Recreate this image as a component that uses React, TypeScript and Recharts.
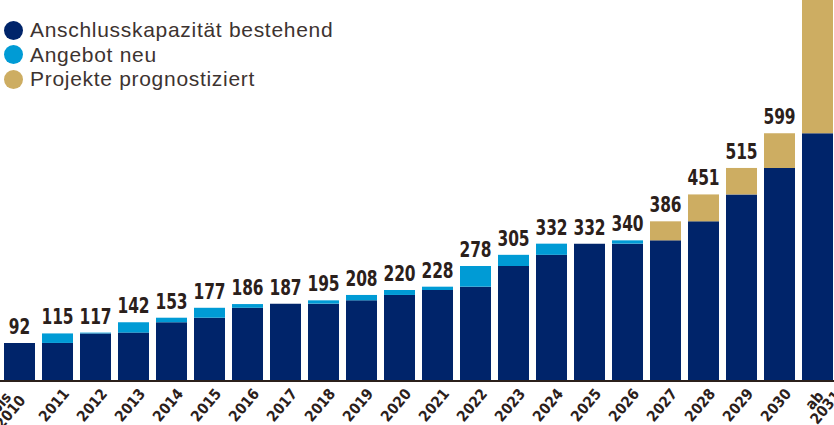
import { Bar, BarChart, LabelList, XAxis, YAxis } from "recharts";

const categories = [
  "bis 2010", "2011", "2012", "2013", "2014", "2015", "2016", "2017", "2018", "2019", "2020",
  "2021", "2022", "2023", "2024", "2025", "2026", "2027", "2028", "2029", "2030", "ab 2031",
];
const bestehend = [92, 92, 115, 117, 142, 153, 177, 187, 187, 195, 208, 220, 228, 278, 305, 332, 332, 340, 386, 451, 515, 599];
const angebotNeu = [0, 23, 2, 25, 11, 24, 9, 0, 8, 13, 12, 8, 50, 27, 27, 0, 8, 0, 0, 0, 0, 0];
const prognostiziert = [0, 0, 0, 0, 0, 0, 0, 0, 0, 0, 0, 0, 0, 0, 0, 0, 0, 46, 65, 64, 84, 400];
const totals = [92, 115, 117, 142, 153, 177, 186, 187, 195, 208, 220, 228, 278, 305, 332, 332, 340, 386, 451, 515, 599, null];

const NAVY = "#00246a";
const BLUE = "#009bd5";
const GOLD = "#cdad62";
const INK = "#2b201b";

const condensed = "'Liberation Sans Narrow', 'Arial Narrow', 'DejaVu Sans Condensed', sans-serif";

const data = categories.map((year, i) => ({
  year,
  bestehend: bestehend[i],
  neu: angebotNeu[i],
  prognose: prognostiziert[i],
  total: totals[i],
}));

const legendItems = [
  { label: "Anschlusskapazität bestehend", color: NAVY },
  { label: "Angebot neu", color: BLUE },
  { label: "Projekte prognostiziert", color: GOLD },
];

// two-line labels: first and last category sit a bit differently
function YearTick({ x, y, payload, index }: any) {
  const parts = String(payload.value).split(" ");
  const common = { fill: INK, fontFamily: condensed, fontWeight: "bold", fontSize: 15 };
  let body;
  if (parts.length === 1) {
    body = (
      <text {...common} textAnchor="end" x={0} y={0}>
        {parts[0]}
      </text>
    );
  } else if (index === 0) {
    body = (
      <>
        <text {...common} textAnchor="start" x={-38} y={-13}>{parts[0]}</text>
        <text {...common} textAnchor="end" x={-9} y={0}>{parts[1]}</text>
      </>
    );
  } else {
    body = (
      <>
        <text {...common} textAnchor="end" x={-5.5} y={-2.7}>{parts[0]}</text>
        <text {...common} textAnchor="end" x={5.5} y={10.3}>{parts[1]}</text>
      </>
    );
  }
  return (
    <g transform={`translate(${x + 13},${y + 5}) rotate(-50)`}>{body}</g>
  );
}

function TotalLabel(props: any) {
  const vb = props.viewBox ?? props;
  const i = props.index;
  const t = totals[i];
  if (t == null) return null;
  // label sits on navy segment; lift it by the stacked segments above, same px/unit
  const pxPerUnit = vb.height / bestehend[i];
  const top = vb.y - (t - bestehend[i]) * pxPerUnit;
  const cx = vb.x + vb.width / 2;
  return (
    <text
      transform={`translate(${cx},${top - 9}) scale(0.78,1)`}
      textAnchor="middle"
      fill={INK}
      fontFamily={condensed}
      fontWeight="bold"
      fontSize={22}
    >
      {t}
    </text>
  );
}

export default function App() {
  return (
    <div
      style={{
        position: "fixed",
        left: 0,
        top: 0,
        width: 834,
        height: 425,
        overflow: "hidden",
        background: "#fff",
      }}
    >
      <BarChart
        width={840}
        height={425}
        data={data}
        margin={{ top: 0, right: 4, bottom: 0, left: 0 }}
        barSize={31}
      >
        <XAxis
          dataKey="year"
          height={44}
          interval={0}
          tickLine={false}
          axisLine={{ stroke: INK, strokeWidth: 2 }}
          tick={<YearTick />}
        />
        <YAxis hide domain={[0, 921]} allowDataOverflow />
        <Bar dataKey="bestehend" stackId="a" fill={NAVY} isAnimationActive={false}>
          <LabelList dataKey="total" content={<TotalLabel />} />
        </Bar>
        <Bar dataKey="neu" stackId="a" fill={BLUE} isAnimationActive={false} />
        <Bar dataKey="prognose" stackId="a" fill={GOLD} isAnimationActive={false} />
      </BarChart>
      <div style={{ position: "absolute", left: 4, top: 18, fontFamily: "'Liberation Sans', Arial, sans-serif" }}>
        {legendItems.map((item) => (
          <div key={item.label} style={{ display: "flex", alignItems: "center", height: 24.5 }}>
            <span
              style={{
                width: 19,
                height: 19,
                borderRadius: "50%",
                background: item.color,
                display: "inline-block",
                marginRight: 7,
              }}
            />
            <span style={{ fontSize: 21, color: "#3d3330", lineHeight: "24px", letterSpacing: 0.7 }}>
              {item.label}
            </span>
          </div>
        ))}
      </div>
    </div>
  );
}
